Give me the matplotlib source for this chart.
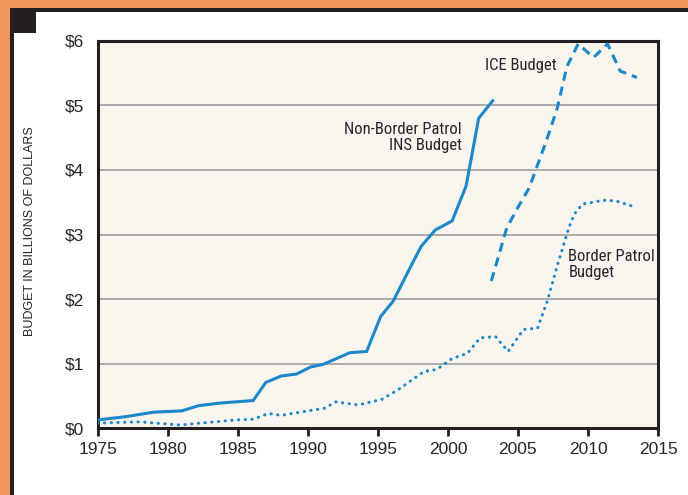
import matplotlib
matplotlib.use("Agg")
import matplotlib.pyplot as plt
from matplotlib.patches import Rectangle

# datos (miles de millones de dolares)
ins_years = [1975, 1977, 1979, 1981, 1982.2, 1983.7, 1986.1, 1987, 1988.1, 1989.2, 1990.2,
             1991.1, 1993, 1994.2, 1995.2, 1996.1, 1997.1, 1998.1, 1999.1, 2000.3, 2001.3,
             2002.2, 2003.2]
ins_budget = [0.13, 0.18, 0.25, 0.27, 0.35, 0.39, 0.43, 0.71, 0.81, 0.84, 0.95,
              0.99, 1.17, 1.19, 1.73, 1.97, 2.40, 2.82, 3.07, 3.21, 3.75,
              4.80, 5.07]

ice_years = [2003.1, 2004.2, 2005.0, 2005.8, 2007.0, 2007.8, 2008.5, 2009.3, 2010.4,
             2011.4, 2012.3, 2013.5]
ice_budget = [2.28, 3.10, 3.42, 3.72, 4.43, 4.95, 5.60, 5.95, 5.74, 5.95, 5.53, 5.43]

bp_years = [1975, 1978, 1980.9, 1982.3, 1984.9, 1986.1, 1987.2, 1988.1, 1990, 1991.2,
            1992, 1993.6, 1995.3, 1996.4, 1998.3, 1999.2, 2000.3, 2001.4, 2002.3, 2003.4,
            2004.3, 2005.4, 2006.4, 2007.1, 2007.8, 2008.6, 2009.0, 2009.6, 2011.1, 2012.0,
            2013.3]
bp_budget = [0.08, 0.10, 0.05, 0.08, 0.13, 0.14, 0.23, 0.20, 0.27, 0.31,
             0.41, 0.36, 0.45, 0.59, 0.88, 0.91, 1.08, 1.16, 1.40, 1.42,
             1.19, 1.53, 1.55, 1.97, 2.51, 3.08, 3.31, 3.47, 3.53, 3.52,
             3.43]

x_ticks = [1975, 1980, 1985, 1990, 1995, 2000, 2005, 2010, 2015]
y_ticks = [0, 1, 2, 3, 4, 5, 6]
y_labels = ["$0", "$1", "$2", "$3", "$4", "$5", "$6"]

azul = "#1c87c9"
texto = "#262626"
narrow = ["Roboto Condensed", "Liberation Sans Narrow", "Liberation Sans", "DejaVu Sans"]
plt.rcParams["font.family"] = ["Liberation Sans", "DejaVu Sans"]

W, H = 688, 495
fig = plt.figure(figsize=(W / 100, H / 100), dpi=100)
fig.patch.set_facecolor("#f1965c")

# marco: panel blanco, bordes negros y cuadrado negro
marco = [((14 / W, 0), 1, 1 - 12 / H, "white"),
         ((10 / W, 1 - 12 / H), 1, 4 / H, "#231f20"),
         ((10 / W, 0), 4 / W, 1 - 8 / H, "#231f20"),
         ((10 / W, 1 - 33 / H), 26 / W, 25 / H, "#231f20")]
for xy, w, h, c in marco:
    fig.patches.append(Rectangle(xy, w, h, transform=fig.transFigure,
                                 facecolor=c, edgecolor="none", zorder=-5))

ax = fig.add_axes([97.7 / W, 1 - 428.3 / H, (658 - 97.7) / W, (428.3 - 40.7) / H])
ax.set_facecolor("#faf6ef")

ax.plot(ins_years, ins_budget, color=azul, lw=2.2, solid_joinstyle="miter", zorder=3)
ax.plot(ice_years, ice_budget, color=azul, lw=2.2, ls=(0, (3.0, 2.0)), zorder=3)
ax.plot(bp_years, bp_budget, color=azul, lw=2.2, ls=(0, (0.1, 2.1)), dash_capstyle="round", zorder=3)

ax.set_xlim(1975, 2015)
ax.set_ylim(0, 6)
ax.set_xticks(x_ticks)
ax.set_yticks(y_ticks)
ax.set_yticklabels(y_labels)
ax.tick_params(axis="x", length=6, width=2, direction="out", pad=4, labelsize=12.5,
               labelcolor=texto, color="#231f20")
ax.tick_params(axis="y", length=0, pad=10, labelsize=12.5, labelcolor=texto)

for v in [1, 2, 3, 4, 5]:
    ax.axhline(v, color="#a5a5a5", lw=1.3, zorder=1)

for s in ax.spines.values():
    s.set_color("#231f20")
    s.set_linewidth(2.2)

ax.text(2005.2, 5.62, "ICE Budget", fontsize=12, color=texto, family=narrow, ha="center", va="center")
ax.text(2001.0, 4.5, "Non-Border Patrol\nINS Budget", fontsize=12, color=texto,
        family=narrow, ha="right", va="center", linespacing=1.1)
ax.text(2008.6, 2.53, "Border Patrol\nBudget", fontsize=12, color=texto,
        family=narrow, ha="left", va="center", linespacing=1.1)

fig.text(30 / W, 1 - 231 / H, "BUDGET IN BILLIONS OF DOLLARS", rotation=90, fontsize=9,
         color=texto, ha="center", va="center")

fig.savefig("out.png", dpi=100, facecolor=fig.get_facecolor())
